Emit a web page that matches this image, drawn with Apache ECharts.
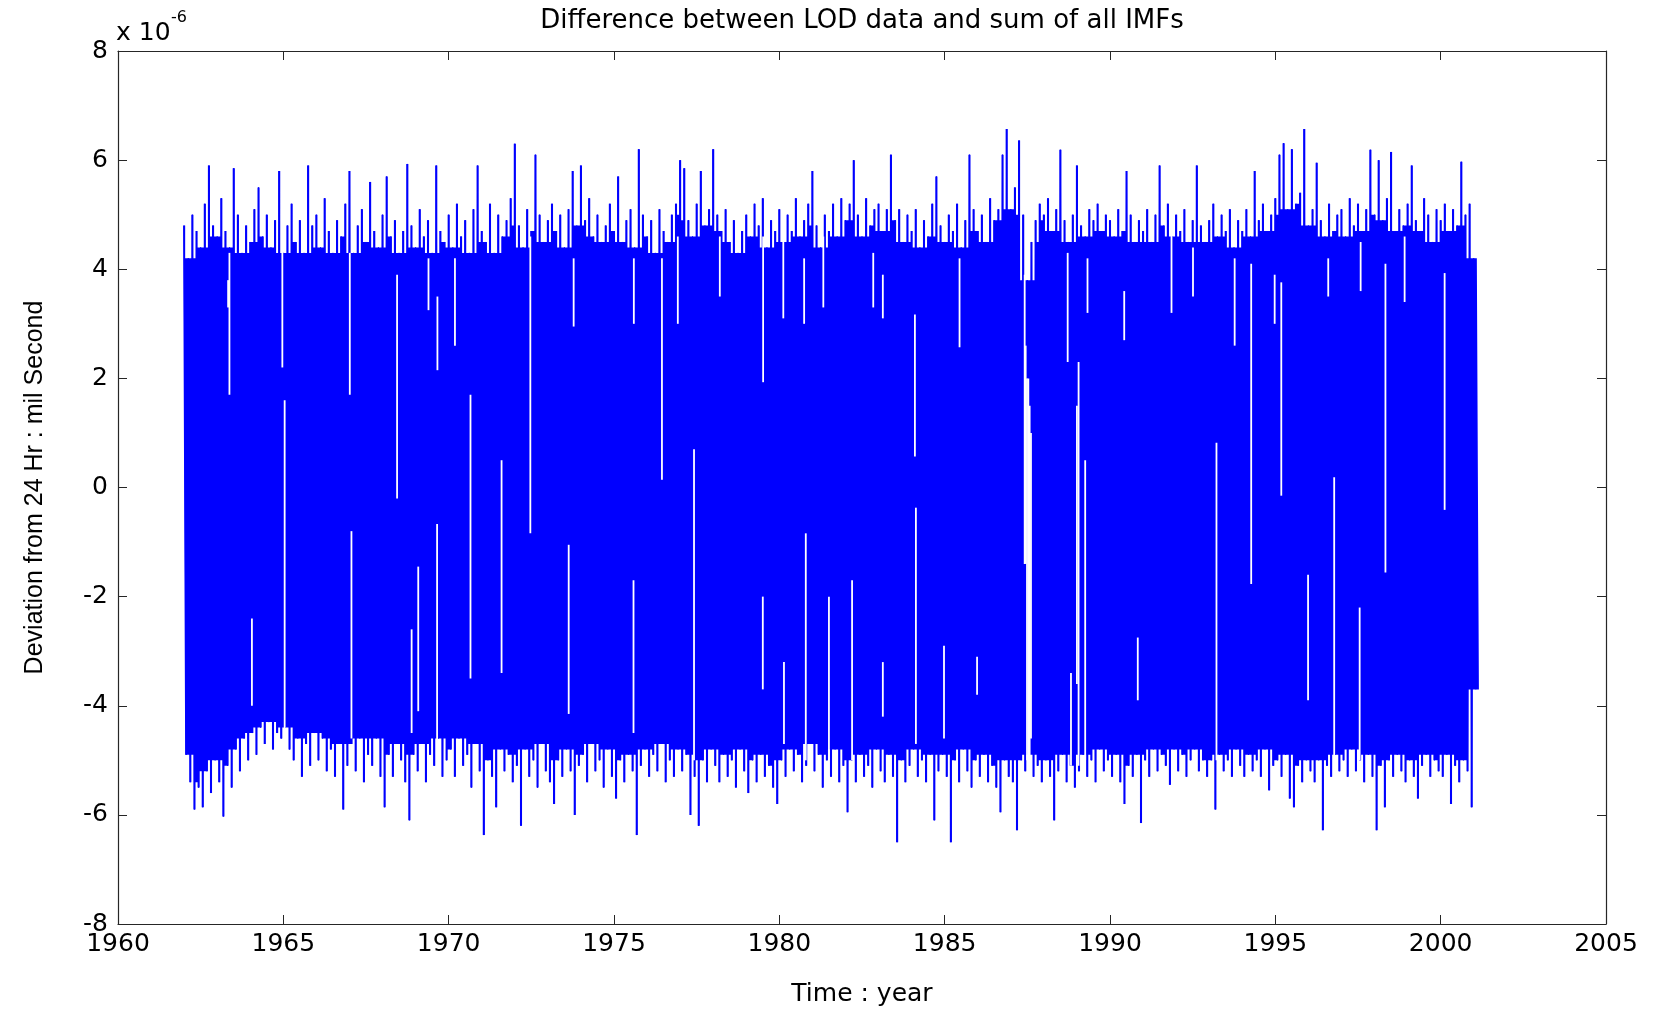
<!DOCTYPE html>
<html>
<head>
<meta charset="utf-8">
<script src="https://cdn.jsdelivr.net/npm/echarts@6/dist/echarts.min.js"></script>
<style>
html,body{margin:0;padding:0;background:#fff;}
#chart{width:1655px;height:1012px;}
</style>
</head>
<body>
<div id="chart"></div>
<script>
// Samples: one upper swing (hi) and one lower swing (lo) every 1/8 year, starting 1962.0 (units of 1e-6)
const startYear = 1962;
const stepYears = 0.125;
const hi = [
4.8,4.2,5.0,4.7,4.4,5.2,5.9,4.8,
4.6,5.3,4.7,4.4,5.85,5.0,4.3,4.8,
4.5,5.1,5.5,4.6,5.0,4.4,4.9,5.8,
4.3,4.8,5.2,4.5,4.9,4.3,5.9,4.8,
5.0,4.4,5.3,4.7,4.3,4.9,4.6,5.2,
5.8,4.3,4.8,5.1,4.5,5.6,4.7,4.4,
5.0,5.7,4.6,4.9,4.3,4.7,5.93,4.8,
4.4,5.1,4.6,4.9,4.3,5.9,4.7,4.5,
5.0,4.4,5.2,4.6,4.9,4.3,5.1,5.9,
4.7,4.5,5.2,4.3,5.0,4.6,4.9,5.3,
6.3,4.8,4.4,5.1,4.7,6.1,5.0,4.5,
4.9,5.2,4.7,5.0,4.4,5.1,5.8,4.8,
5.9,4.9,5.3,4.6,5.0,4.5,4.8,5.2,
4.7,5.7,4.5,4.9,5.1,4.4,6.2,5.0,
4.6,4.9,4.3,5.1,4.7,4.5,5.0,5.2,
6.0,5.85,4.9,4.6,5.2,5.8,4.8,5.1,
6.2,5.0,4.7,5.1,4.5,4.9,4.3,4.7,
5.0,4.6,5.2,4.8,5.3,4.4,4.9,4.7,
5.1,4.5,5.0,4.7,5.3,4.6,4.9,5.2,
5.8,4.8,4.4,5.0,4.7,5.2,4.6,5.3,
4.9,5.2,6.0,5.0,4.6,5.3,4.8,5.1,
5.2,4.7,5.1,6.1,4.9,5.1,4.5,5.0,
4.7,5.1,4.4,4.9,4.6,5.2,5.7,4.8,
4.5,5.0,4.7,5.2,4.4,4.9,6.1,5.1,
4.7,5.0,4.5,5.3,4.9,5.1,6.1,6.57,
5.1,5.5,6.36,5.0,3.8,4.5,4.9,5.2,
5.0,5.3,4.7,5.1,6.19,4.9,4.5,5.0,
5.9,4.8,4.6,5.1,4.9,5.2,4.7,5.0,
4.9,4.6,5.1,4.7,5.8,5.0,4.5,4.9,
4.7,5.1,4.5,5.0,5.9,4.8,5.2,4.6,
5.0,4.7,5.1,4.5,4.9,5.9,4.8,4.5,
4.9,5.2,4.6,5.0,4.7,5.1,4.4,4.9,
4.7,5.1,4.6,5.8,4.9,5.2,4.7,5.0,
5.3,6.1,6.31,5.1,6.2,5.2,5.4,6.57,
4.8,5.1,5.95,4.9,4.6,5.2,4.7,5.0,
5.1,4.6,5.3,4.8,5.2,4.7,5.1,6.19,
5.0,6.0,4.9,5.3,6.15,4.7,5.1,4.8,
5.2,5.9,4.9,4.7,5.3,5.0,4.5,5.1,
4.9,5.2,4.7,5.1,4.8,5.97,5.0,5.2,
4.2
];
const lo = [
-4.9,-5.4,-5.9,-5.5,-5.86,-5.2,-5.6,-5.0,
-5.4,-6.03,-5.1,-5.5,-4.8,-5.2,-4.6,-5.0,
-4.5,-4.9,-4.4,-4.7,-4.3,-4.8,-4.5,-4.6,
-4.4,-4.8,-5.0,-4.6,-5.3,-4.7,-5.1,-4.5,
-5.0,-4.6,-5.2,-4.8,-5.3,-4.7,-5.9,-5.1,
-4.7,-5.2,-4.6,-5.4,-4.9,-5.1,-4.6,-5.3,
-5.86,-4.9,-5.3,-4.7,-5.0,-5.4,-6.1,-4.9,
-5.2,-4.7,-5.4,-4.9,-5.1,-4.6,-5.3,-5.0,
-4.8,-5.3,-4.6,-5.1,-4.9,-5.5,-4.7,-5.2,
-6.37,-5.0,-5.3,-5.86,-4.8,-5.2,-4.9,-5.4,
-5.1,-6.2,-4.8,-5.3,-5.0,-5.5,-4.7,-5.2,
-5.4,-5.8,-5.0,-5.3,-4.8,-5.2,-6.0,-5.1,
-4.9,-5.4,-4.7,-5.2,-5.0,-5.5,-4.8,-5.3,
-5.7,-5.0,-5.4,-4.9,-5.2,-6.37,-5.1,-4.8,
-5.3,-4.9,-5.2,-4.7,-5.4,-5.0,-5.3,-4.8,
-5.2,-4.9,-6.0,-5.3,-6.2,-5.0,-5.4,-4.8,
-5.1,-5.4,-4.9,-5.3,-5.0,-5.5,-4.8,-5.2,
-5.6,-5.0,-5.4,-4.9,-5.3,-5.1,-5.5,-5.8,
-5.0,-5.3,-4.8,-5.2,-4.9,-5.4,-5.1,-4.7,
-5.2,-4.9,-5.5,-5.0,-5.3,-4.8,-5.4,-5.1,
-5.95,-5.0,-5.4,-4.9,-5.3,-5.1,-5.5,-4.8,
-5.2,-5.4,-4.9,-5.3,-6.5,-5.0,-5.4,-5.1,
-4.8,-5.3,-5.0,-5.4,-4.9,-6.1,-5.2,-4.9,
-5.3,-6.5,-5.0,-5.4,-4.8,-5.2,-5.5,-5.0,
-5.3,-4.9,-5.4,-5.1,-5.5,-5.95,-5.0,-5.3,
-5.4,-6.28,-5.0,-5.2,-4.9,-5.3,-5.1,-5.4,
-5.0,-5.3,-6.1,-5.2,-4.9,-5.4,-5.1,-5.5,
-5.2,-4.9,-5.3,-5.0,-5.4,-4.8,-5.2,-5.0,
-5.3,-4.9,-5.4,-5.8,-5.1,-5.3,-4.9,-6.15,
-5.0,-5.3,-4.8,-5.2,-4.9,-5.1,-5.45,-4.8,
-5.2,-4.9,-5.3,-5.0,-4.8,-5.2,-5.0,-5.3,
-5.0,-5.9,-4.9,-5.2,-5.0,-5.3,-4.8,-5.1,
-5.3,-4.9,-5.2,-5.0,-5.3,-4.8,-5.55,-5.1,
-5.0,-5.3,-4.9,-5.7,-5.86,-5.1,-5.4,-5.0,
-5.2,-5.4,-5.0,-6.28,-5.1,-5.3,-4.9,-5.2,
-5.0,-5.3,-4.8,-5.2,-5.0,-5.4,-4.9,-5.3,
-6.28,-5.1,-5.86,-5.0,-5.3,-4.9,-5.2,-5.4,
-5.0,-5.3,-5.7,-5.1,-4.9,-5.3,-5.0,-5.2,
-5.3,-4.9,-5.8,-5.1,-5.4,-5.0,-5.2,-5.86,
-3.7
];
// Thin white streaks where the trace does not cross: year, upper value, lower value
const gapYear = [1963.33,1963.37,1964.05,1964.97,1965.04,1967.01,1967.06,1968.44,1968.88,1969.08,
1969.39,1969.66,1969.65,1970.19,1970.66,1971.60,1972.47,1973.63,1973.78,1975.59,
1975.60,1976.45,1976.93,1977.42,1978.20,1979.51,1979.50,1980.12,1980.14,1980.75,
1980.80,1981.33,1981.50,1982.20,1982.84,1983.13,1983.13,1984.10,1984.13,1984.98,
1985.45,1985.98,1987.42,1987.45,1987.49,1987.53,1987.57,1987.61,1988.72,1988.82,
1989.00,1989.05,1989.25,1989.32,1990.43,1990.84,1991.86,1992.51,1993.22,1993.77,
1994.27,1994.98,1995.18,1995.99,1996.60,1996.78,1997.55,1997.58,1998.33,1998.91,
2000.12];
const gapTop = [3.8,4.3,-2.4,4.9,1.6,4.3,-0.8,3.9,-2.6,-1.45,
4.2,3.5,-0.67,4.2,1.7,0.5,4.6,-1.05,4.2,-1.7,
4.2,4.2,4.6,0.7,4.6,4.6,-2.0,4.6,-3.2,4.2,
-0.84,4.6,-2.0,-1.7,4.3,3.9,-3.2,3.17,-0.37,-2.9,
4.2,-3.1,3.9,2.6,2.0,2.0,1.5,1.0,4.3,-3.4,
1.5,2.3,0.5,4.2,3.6,-2.75,4.7,4.4,0.82,4.2,
4.1,3.9,3.76,-1.6,4.2,0.19,-2.2,4.5,4.1,4.6,
3.93];
const gapBottom = [3.3,1.7,-4.0,2.2,-4.5,1.7,-4.6,-0.2,-4.5,-4.1,
3.25,2.15,-5.0,2.6,-3.5,-3.4,-0.84,-4.15,2.95,-4.5,
3.0,0.14,3.0,-5.0,3.5,1.93,-3.7,3.1,-4.7,3.0,
-5.0,3.3,-5.0,-5.0,3.3,3.1,-4.2,0.57,-4.7,-4.6,
2.57,-3.8,-1.4,-1.4,-5.0,-5.0,-5.0,-4.6,2.3,-5.1,
-3.6,-5.1,-5.0,3.2,2.7,-3.9,3.2,3.5,-5.0,2.6,
-1.77,3.0,-0.15,-3.9,3.5,-5.0,-5.0,3.6,-1.56,3.4,
-0.41];
const xTicks = {min:1960, max:2005, interval:5};
const yTicks = {min:-8, max:8, interval:2};

if (hi.length !== lo.length) throw new Error('hi/lo length mismatch ' + hi.length + ' ' + lo.length);
if (gapYear.length !== gapTop.length || gapYear.length !== gapBottom.length) throw new Error('gap length mismatch ' + gapYear.length + ' ' + gapTop.length + ' ' + gapBottom.length);

const half = stepYears / 2, quarter = stepYears / 4;
const n = hi.length;
// zig-zag trace through the swings
const trace = [];
for (let i = 0; i < n; i++) {
  const t = startYear + i * stepYears;
  trace.push([t, hi[i]]);
  trace.push([t + half, lo[i]]);
}
// filled body of the dense trace: a column for every swing, with the shallowest
// neighbouring swing marking where adjacent swings stop overlapping
const pick = (arr, k) => arr[Math.max(0, Math.min(n - 1, k))];
const bodyPts = [];
for (let i = 0; i < n; i++) {
  const t = startYear + i * stepYears;
  const notch = Math.min(pick(hi, i - 1), hi[i], pick(hi, i + 1), pick(hi, i + 2));
  bodyPts.push([t - quarter, hi[i]], [t + quarter, hi[i]], [t + quarter, notch], [t + 3 * quarter, notch]);
}
for (let i = n - 1; i >= 0; i--) {
  const u = startYear + i * stepYears + half;
  const notch = Math.max(pick(lo, i - 1), lo[i], pick(lo, i + 1), pick(lo, i + 2));
  bodyPts.push([u + 3 * quarter, notch], [u + quarter, notch], [u + quarter, lo[i]], [u - quarter, lo[i]]);
}
const gaps = gapYear.map((y, i) => [y, gapTop[i], gapBottom[i]]);

const axisColor = '#262626';
const tickFont = {fontFamily: 'DejaVu Sans', fontSize: 25, color: '#000'};
const chart = echarts.init(document.getElementById('chart'), null, {renderer: 'canvas'});
chart.setOption({
  animation: false,
  backgroundColor: '#fff',
  title: {
    text: 'Difference between LOD data and sum of all IMFs',
    left: 857, top: 3, textAlign: 'center',
    textStyle: {fontFamily: 'DejaVu Sans', fontSize: 26, fontWeight: 'normal', color: '#000'}
  },
  graphic: [
    {type: 'text', left: 116, top: 21, style: {text: 'x 10', fontFamily: 'DejaVu Sans', fontSize: 25, fill: '#000'}},
    {type: 'text', left: 171, top: 10, style: {text: '-6', fontFamily: 'DejaVu Sans', fontSize: 16, fill: '#000'}}
  ],
  grid: {left: 118, right: 49, top: 51, bottom: 86, containLabel: false, show: false},
  xAxis: [{
    type: 'value', min: xTicks.min, max: xTicks.max, interval: xTicks.interval, position: 'bottom',
    axisLine: {show: true, onZero: false, lineStyle: {color: axisColor, width: 1.2}},
    axisTick: {show: true, inside: true, length: 9, lineStyle: {color: axisColor}},
    axisLabel: Object.assign({margin: 8, formatter: v => String(v)}, tickFont),
    splitLine: {show: false},
    name: 'Time : year', nameLocation: 'middle', nameGap: 58,
    nameTextStyle: {fontFamily: 'DejaVu Sans', fontSize: 25, color: '#000'}
  }, {
    type: 'value', min: xTicks.min, max: xTicks.max, interval: xTicks.interval, position: 'top',
    axisLine: {show: true, onZero: false, lineStyle: {color: axisColor, width: 1.2}},
    axisTick: {show: true, inside: true, length: 9, lineStyle: {color: axisColor}},
    axisLabel: {show: false}, splitLine: {show: false}
  }],
  yAxis: [{
    type: 'value', min: yTicks.min, max: yTicks.max, interval: yTicks.interval, position: 'left',
    axisLine: {show: true, onZero: false, lineStyle: {color: axisColor, width: 1.2}},
    axisTick: {show: true, inside: true, length: 9, lineStyle: {color: axisColor}},
    axisLabel: Object.assign({margin: 10}, tickFont),
    splitLine: {show: false},
    name: 'Deviation from 24 Hr : mil Second', nameLocation: 'middle', nameGap: 70, nameRotate: 90,
    nameTextStyle: {fontFamily: 'Liberation Sans', fontSize: 25, color: '#000'}
  }, {
    type: 'value', min: yTicks.min, max: yTicks.max, interval: yTicks.interval, position: 'right',
    axisLine: {show: true, onZero: false, lineStyle: {color: axisColor, width: 1.2}},
    axisTick: {show: true, inside: true, length: 9, lineStyle: {color: axisColor}},
    axisLabel: {show: false}, splitLine: {show: false}
  }],
  series: [{
    type: 'custom', xAxisIndex: 0, yAxisIndex: 0, data: [[startYear, 0]], z: 1, silent: true,
    renderItem: function (params, api) {
      const pts = bodyPts.map(p => api.coord(p));
      return {type: 'polygon', shape: {points: pts}, style: {fill: '#0000ff', stroke: null}};
    }
  }, {
    type: 'line', xAxisIndex: 0, yAxisIndex: 0, data: trace,
    showSymbol: false, symbol: 'none', sampling: null,
    lineStyle: {color: '#0000ff', width: 1, join: 'bevel'},
    z: 2, silent: true
  }, {
    type: 'custom', xAxisIndex: 0, yAxisIndex: 0, data: gaps, z: 3, silent: true,
    renderItem: function (params, api) {
      const p1 = api.coord([api.value(0), api.value(1)]);
      const p2 = api.coord([api.value(0), api.value(2)]);
      return {type: 'line', shape: {x1: p1[0], y1: p1[1], x2: p2[0], y2: p2[1]},
              style: {stroke: '#ffffff', lineWidth: 1.8}};
    }
  }]
});
</script>
</body>
</html>
